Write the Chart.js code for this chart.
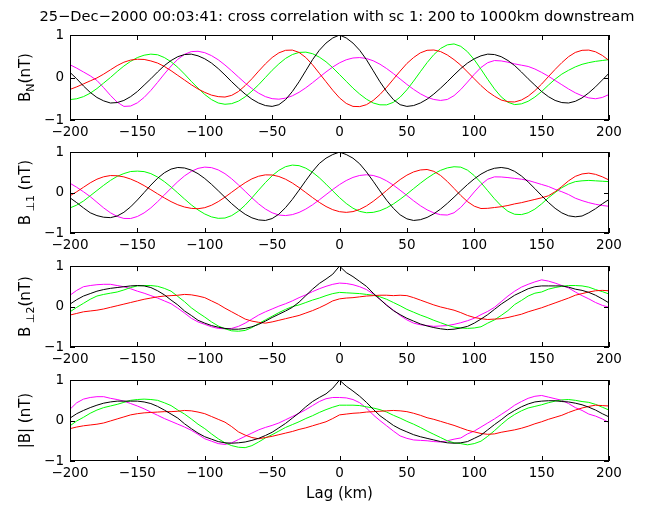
<!DOCTYPE html>
<html><head><meta charset="utf-8">
<script src="https://cdn.jsdelivr.net/npm/chart.js@4.4.1/dist/chart.umd.min.js"></script>
<style>
html,body{margin:0;padding:0;background:#fff;}
#wrap{position:relative;width:647px;height:506px;overflow:hidden;background:#fff;}
canvas{position:absolute;left:0;display:block;}
</style></head><body>
<div id="wrap">
<canvas id="c1" width="647" height="145" style="top:0px"></canvas>
<canvas id="c2" width="647" height="120" style="top:138px"></canvas>
<canvas id="c3" width="647" height="120" style="top:252px"></canvas>
<canvas id="c4" width="647" height="140" style="top:366px"></canvas>
</div>
<script>
// ---------- data ----------
const lagKm = [-200,-195,-190,-185,-180,-175,-170,-165,-160,-155,-150,-145,-140,-135,-130,-125,-120,-115,-110,-105,-100,-95,-90,-85,-80,-75,-70,-65,-60,-55,-50,-45,-40,-35,-30,-25,-20,-15,-10,-5,0,5,10,15,20,25,30,35,40,45,50,55,60,65,70,75,80,85,90,95,100,105,110,115,120,125,130,135,140,145,150,155,160,165,170,175,180,185,190,195,200];
const xTickValues = [-200,-150,-100,-50,0,50,100,150,200];
const yTickValues = [-1,0,1];
const titleText = '25\u2212Dec\u22122000 00:03:41: cross correlation with sc 1: 200 to 1000km downstream';
const xAxisTitle = 'Lag (km)';

// Panel 1: B_N
const bnBlack = [0.12,-0.03,-0.2,-0.35,-0.47,-0.55,-0.6,-0.59,-0.54,-0.45,
 -0.33,-0.18,-0.03,0.13,0.28,0.4,0.49,0.54,0.55,0.51,
 0.44,0.34,0.21,0.06,-0.1,-0.25,-0.39,-0.51,-0.6,-0.66,
 -0.68,-0.64,-0.52,-0.33,-0.1,0.16,0.42,0.64,0.81,0.93,
 1.0,
 0.93,0.81,0.64,0.42,0.16,-0.1,-0.33,-0.52,-0.64,-0.68,
 -0.66,-0.6,-0.51,-0.39,-0.25,-0.1,0.06,0.21,0.34,0.44,
 0.51,0.55,0.54,0.49,0.4,0.28,0.13,-0.03,-0.18,-0.33,
 -0.45,-0.54,-0.59,-0.6,-0.56,-0.48,-0.36,-0.22,-0.06,0.1];
const bnRed = [-0.28,-0.22,-0.15,-0.08,-0.01,0.08,0.18,0.28,0.36,0.41,
 0.43,0.425,0.39,0.34,0.26,0.16,0.05,-0.06,-0.17,-0.27,
 -0.35,-0.415,-0.45,-0.46,-0.42,-0.33,-0.19,-0.03,0.15,0.32,
 0.47,0.58,0.64,0.645,0.59,0.47,0.3,0.1,-0.1,-0.3,
 -0.48,
 -0.61,-0.68,-0.685,-0.64,-0.54,-0.4,-0.23,-0.04,0.15,0.33,
 0.47,0.58,0.64,0.647,0.61,0.53,0.42,0.29,0.13,-0.03,
 -0.19,-0.33,-0.44,-0.53,-0.57,-0.576,-0.53,-0.44,-0.31,-0.155,
 0.02,0.19,0.35,0.49,0.59,0.64,0.645,0.605,0.52,0.4];
const bnGreen = [-0.52,-0.5,-0.45,-0.37,-0.26,-0.13,0.0,0.14,0.27,0.38,
 0.47,0.525,0.55,0.535,0.47,0.37,0.24,0.08,-0.09,-0.25,
 -0.4,-0.52,-0.6,-0.63,-0.615,-0.556,-0.455,-0.32,-0.17,0.0,
 0.17,0.32,0.45,0.54,0.59,0.597,0.56,0.48,0.37,0.23,
 0.07,
 -0.09,-0.25,-0.39,-0.51,-0.6,-0.643,-0.644,-0.584,-0.462,-0.29,
 -0.084,0.136,0.35,0.538,0.683,0.768,0.79,0.733,0.606,0.419,
 0.194,-0.044,-0.268,-0.456,-0.583,-0.638,-0.62,-0.56,-0.46,-0.33,
 -0.18,-0.04,0.08,0.17,0.25,0.31,0.35,0.38,0.4,0.42];
const bnMagenta = [0.3,0.22,0.13,0.04,-0.07,-0.24,-0.42,-0.58,-0.68,-0.671,
 -0.596,-0.469,-0.304,-0.114,0.083,0.27,0.428,0.545,0.609,0.617,
 0.584,0.515,0.417,0.294,0.156,0.011,-0.131,-0.26,-0.369,-0.45,
 -0.498,-0.51,-0.486,-0.431,-0.348,-0.242,-0.122,0.005,0.131,0.247,
 0.345,
 0.417,0.459,0.469,0.447,0.394,0.313,0.21,0.092,-0.035,-0.162,
 -0.28,-0.383,-0.464,-0.517,-0.54,-0.517,-0.427,-0.283,-0.107,0.075,
 0.236,0.349,0.399,0.39,0.36,0.32,0.29,0.26,0.2,0.12,
 0.03,-0.07,-0.17,-0.27,-0.36,-0.43,-0.48,-0.5,-0.47,-0.4];

// Panel 2: B_perp1
const bp1Black = [-0.13,-0.25,-0.38,-0.5,-0.57,-0.61,-0.62,-0.58,-0.488,-0.353,
 -0.184,0.0,0.184,0.353,0.488,0.58,0.62,0.607,0.555,0.467,
 0.347,0.204,0.046,-0.117,-0.275,-0.417,-0.537,-0.625,-0.677,-0.69,
 -0.643,-0.535,-0.371,-0.169,0.06,0.296,0.522,0.718,0.85,0.94,
 1.0,
 0.94,0.85,0.71,0.51,0.28,0.04,-0.19,-0.39,-0.55,-0.65,
 -0.69,-0.671,-0.615,-0.526,-0.408,-0.268,-0.114,0.044,0.198,0.338,
 0.456,0.545,0.6,0.62,0.595,0.523,0.41,0.263,0.097,-0.077,
 -0.243,-0.39,-0.503,-0.575,-0.6,-0.58,-0.5,-0.4,-0.28,-0.17];
const bp1Red = [-0.08,0.02,0.13,0.24,0.33,0.39,0.42,0.415,0.387,0.334,
 0.261,0.172,0.072,-0.031,-0.132,-0.225,-0.302,-0.358,-0.391,-0.4,
 -0.374,-0.314,-0.225,-0.114,0.008,0.13,0.244,0.339,0.404,0.437,
 0.434,0.397,0.329,0.236,0.123,0.0,-0.125,-0.243,-0.345,-0.424,
 -0.473,
 -0.49,-0.471,-0.417,-0.33,-0.217,-0.086,0.053,0.193,0.321,0.43,
 0.51,0.558,0.57,0.524,0.422,0.274,0.103,-0.072,-0.225,-0.337,
 -0.395,-0.39,-0.37,-0.35,-0.32,-0.28,-0.25,-0.21,-0.17,-0.13,
 -0.08,0.02,0.15,0.29,0.4,0.46,0.48,0.45,0.39,0.31];
const bp1Green = [-0.38,-0.31,-0.21,-0.08,0.05,0.18,0.3,0.4,0.47,0.52,
 0.53,0.518,0.468,0.384,0.271,0.137,-0.01,-0.16,-0.304,-0.429,
 -0.53,-0.602,-0.637,-0.63,-0.57,-0.46,-0.31,-0.132,0.06,0.246,
 0.415,0.549,0.64,0.679,0.665,0.603,0.501,0.366,0.207,0.04,
 -0.124,
 -0.27,-0.387,-0.466,-0.499,-0.49,-0.449,-0.378,-0.282,-0.166,-0.038,
 0.097,0.23,0.355,0.463,0.549,0.609,0.638,0.628,0.554,0.419,
 0.244,0.045,-0.154,-0.329,-0.464,-0.537,-0.545,-0.5,-0.41,-0.28,
 -0.13,0.0,0.12,0.21,0.27,0.29,0.3,0.29,0.28,0.27];
const bp1Magenta = [0.23,0.13,0.02,-0.1,-0.24,-0.38,-0.5,-0.59,-0.64,-0.642,
 -0.592,-0.503,-0.379,-0.226,-0.06,0.108,0.27,0.412,0.523,0.598,
 0.629,0.616,0.56,0.467,0.34,0.19,0.03,-0.13,-0.28,-0.407,
 -0.5,-0.556,-0.569,-0.546,-0.491,-0.408,-0.303,-0.181,-0.052,0.076,
 0.196,
 0.297,0.374,0.423,0.44,0.422,0.371,0.289,0.183,0.058,-0.072,
 -0.204,-0.325,-0.427,-0.503,-0.548,-0.556,-0.5,-0.367,-0.185,0.015,
 0.197,0.33,0.388,0.385,0.37,0.35,0.33,0.3,0.25,0.2,
 0.15,0.08,0.02,-0.05,-0.14,-0.2,-0.25,-0.29,-0.32,-0.34];

// Panel 3: B_perp2
const bp2Black = [0.06,0.17,0.26,0.32,0.38,0.42,0.45,0.47,0.49,0.51,
 0.52,0.51,0.47,0.39,0.29,0.16,0.04,-0.11,-0.22,-0.34,
 -0.41,-0.47,-0.51,-0.54,-0.56,-0.56,-0.54,-0.5,-0.44,-0.36,
 -0.27,-0.19,-0.11,-0.02,0.11,0.27,0.43,0.57,0.68,0.8,
 1.0,
 0.84,0.74,0.62,0.5,0.33,0.18,0.03,-0.1,-0.2,-0.29,
 -0.36,-0.43,-0.48,-0.52,-0.55,-0.57,-0.56,-0.53,-0.49,-0.41,
 -0.31,-0.2,-0.07,0.06,0.17,0.28,0.36,0.44,0.49,0.51,
 0.51,0.51,0.51,0.48,0.43,0.4,0.35,0.28,0.19,0.09];
const bp2Red = [-0.21,-0.17,-0.13,-0.11,-0.09,-0.06,-0.02,0.02,0.06,0.1,
 0.14,0.18,0.21,0.24,0.26,0.27,0.28,0.3,0.29,0.26,
 0.22,0.14,0.06,-0.04,-0.13,-0.22,-0.31,-0.36,-0.39,-0.41,
 -0.38,-0.34,-0.3,-0.26,-0.22,-0.16,-0.1,-0.03,0.05,0.14,
 0.19,
 0.21,0.22,0.24,0.26,0.27,0.28,0.28,0.27,0.28,0.27,
 0.22,0.16,0.1,0.04,-0.01,-0.05,-0.09,-0.15,-0.22,-0.27,
 -0.3,-0.32,-0.31,-0.3,-0.27,-0.23,-0.19,-0.13,-0.08,-0.03,
 0.03,0.09,0.15,0.21,0.28,0.32,0.36,0.39,0.4,0.39];
const bp2Green = [-0.13,-0.02,0.08,0.18,0.26,0.3,0.33,0.36,0.41,0.47,
 0.51,0.52,0.52,0.5,0.45,0.38,0.25,0.12,-0.03,-0.15,
 -0.26,-0.38,-0.48,-0.55,-0.6,-0.61,-0.59,-0.52,-0.42,-0.33,
 -0.24,-0.15,-0.07,0.0,0.04,0.1,0.16,0.21,0.27,0.32,
 0.35,
 0.34,0.33,0.32,0.3,0.28,0.24,0.18,0.1,0.02,-0.07,
 -0.14,-0.21,-0.27,-0.34,-0.4,-0.46,-0.51,-0.53,-0.54,-0.53,
 -0.5,-0.41,-0.33,-0.22,-0.1,0.05,0.15,0.26,0.33,0.36,
 0.43,0.47,0.5,0.52,0.52,0.51,0.48,0.42,0.37,0.31];
const bp2Magenta = [0.28,0.4,0.49,0.52,0.54,0.55,0.55,0.52,0.49,0.44,
 0.38,0.33,0.27,0.21,0.14,0.07,-0.04,-0.16,-0.29,-0.38,
 -0.44,-0.5,-0.54,-0.55,-0.54,-0.49,-0.41,-0.31,-0.21,-0.13,
 -0.06,0.01,0.07,0.14,0.22,0.29,0.37,0.44,0.5,0.55,
 0.58,
 0.57,0.54,0.49,0.42,0.31,0.18,0.04,-0.09,-0.22,-0.33,
 -0.41,-0.45,-0.47,-0.49,-0.48,-0.47,-0.44,-0.4,-0.35,-0.29,
 -0.2,-0.12,-0.02,0.12,0.26,0.38,0.48,0.55,0.61,0.66,
 0.63,0.58,0.52,0.46,0.36,0.27,0.19,0.1,0.03,-0.02];

// Panel 4: |B|
const bmBlack = [0.06,0.17,0.25,0.32,0.38,0.43,0.46,0.48,0.48,0.48,
 0.48,0.46,0.42,0.35,0.26,0.16,0.06,-0.08,-0.2,-0.31,
 -0.4,-0.46,-0.52,-0.55,-0.56,-0.55,-0.53,-0.49,-0.44,-0.37,
 -0.29,-0.18,-0.07,0.06,0.19,0.34,0.47,0.57,0.66,0.8,
 1.0,
 0.85,0.73,0.6,0.45,0.28,0.12,0.0,-0.12,-0.21,-0.28,
 -0.35,-0.4,-0.44,-0.48,-0.52,-0.55,-0.56,-0.55,-0.52,-0.44,
 -0.36,-0.23,-0.1,0.02,0.15,0.25,0.34,0.41,0.46,0.48,
 0.49,0.49,0.47,0.46,0.43,0.39,0.33,0.26,0.17,0.09];
const bmRed = [-0.2,-0.16,-0.13,-0.11,-0.09,-0.06,-0.01,0.04,0.09,0.14,
 0.17,0.19,0.2,0.21,0.22,0.22,0.23,0.25,0.24,0.21,
 0.17,0.1,0.03,-0.04,-0.15,-0.28,-0.36,-0.42,-0.45,-0.42,
 -0.39,-0.35,-0.31,-0.27,-0.22,-0.18,-0.13,-0.08,-0.03,0.05,
 0.14,
 0.16,0.18,0.19,0.21,0.22,0.23,0.24,0.25,0.24,0.22,
 0.18,0.13,0.07,0.03,-0.02,-0.07,-0.12,-0.18,-0.24,-0.28,
 -0.32,-0.34,-0.33,-0.29,-0.26,-0.23,-0.19,-0.14,-0.08,-0.03,
 0.03,0.08,0.13,0.2,0.26,0.31,0.35,0.38,0.37,0.36];
const bmGreen = [-0.13,-0.01,0.08,0.18,0.26,0.32,0.36,0.4,0.45,0.5,
 0.52,0.53,0.52,0.5,0.44,0.37,0.26,0.16,0.04,-0.09,
 -0.2,-0.33,-0.45,-0.55,-0.62,-0.66,-0.67,-0.62,-0.53,-0.43,
 -0.35,-0.26,-0.17,-0.1,-0.03,0.05,0.12,0.2,0.27,0.33,
 0.38,
 0.38,0.38,0.37,0.34,0.31,0.27,0.21,0.13,0.06,-0.02,
 -0.09,-0.17,-0.26,-0.34,-0.42,-0.5,-0.55,-0.57,-0.6,-0.57,
 -0.51,-0.39,-0.25,-0.1,0.04,0.15,0.24,0.31,0.35,0.39,
 0.44,0.48,0.51,0.52,0.5,0.47,0.45,0.4,0.33,0.26];
const bmMagenta = [0.28,0.44,0.53,0.57,0.59,0.59,0.55,0.52,0.48,0.42,
 0.36,0.29,0.21,0.13,0.05,-0.02,-0.09,-0.16,-0.24,-0.34,
 -0.45,-0.51,-0.57,-0.59,-0.55,-0.47,-0.39,-0.31,-0.23,-0.17,
 -0.12,-0.06,0.02,0.1,0.18,0.27,0.37,0.47,0.54,0.57,
 0.57,
 0.56,0.52,0.44,0.31,0.14,0.0,-0.13,-0.26,-0.38,-0.44,
 -0.48,-0.49,-0.5,-0.52,-0.53,-0.5,-0.46,-0.43,-0.33,-0.26,
 -0.16,-0.06,0.04,0.15,0.26,0.38,0.47,0.55,0.6,0.62,
 0.58,0.54,0.5,0.42,0.32,0.25,0.16,0.11,0.04,-0.05];

const seriesColors = ['#000000','#ff0000','#00ff00','#ff00ff'];
const FONT = "'DejaVu Sans', 'Liberation Sans', Arial, sans-serif";

// y-axis labels (parts; sub = subscript)
const yLabels = [
  [{t:'B'},{t:'N',sub:true},{t:'(nT)'}],
  [{t:'B'},{t:' \u22A51',sub:true},{t:' (nT)'}],
  [{t:'B'},{t:' \u22A52',sub:true},{t:'(nT)'}],
  [{t:'|B| (nT)'}]
];

const panels = [
  {id:'c1', data:[bnBlack,bnRed,bnGreen,bnMagenta], label:yLabels[0], title:true, xtitle:false, padTop:0, xh:25},
  {id:'c2', data:[bp1Black,bp1Red,bp1Green,bp1Magenta], label:yLabels[1], title:false, xtitle:false, padTop:10, xh:25},
  {id:'c3', data:[bp2Black,bp2Red,bp2Green,bp2Magenta], label:yLabels[2], title:false, xtitle:false, padTop:10, xh:25},
  {id:'c4', data:[bmBlack,bmRed,bmGreen,bmMagenta], label:yLabels[3], title:false, xtitle:true, padTop:10, xh:45}
];

function fmt(v){ return v < 0 ? '\u2212' + Math.abs(v) : String(v); }

const matlabBox = {
  id:'matlabBox',
  afterDraw(chart, args, opts){
    const {ctx, chartArea:a, scales} = chart;
    ctx.save();
    ctx.strokeStyle = '#000';
    ctx.lineWidth = 1;
    ctx.strokeRect(Math.round(a.left)+0.5, Math.round(a.top)+0.5, Math.round(a.right-a.left)-1, Math.round(a.bottom-a.top)-1);
    const tl = 5;
    ctx.beginPath();
    scales.x.ticks.forEach(t => {
      const px = Math.round(scales.x.getPixelForValue(t.value)) + 0.5;
      ctx.moveTo(px, a.bottom); ctx.lineTo(px, a.bottom - tl);
      ctx.moveTo(px, a.top); ctx.lineTo(px, a.top + tl);
    });
    scales.y.ticks.forEach(t => {
      const py = Math.round(scales.y.getPixelForValue(t.value)) + 0.5;
      ctx.moveTo(a.left, py); ctx.lineTo(a.left + tl, py);
      ctx.moveTo(a.right, py); ctx.lineTo(a.right - tl, py);
    });
    ctx.stroke();
    // y label with subscript
    const parts = opts.parts || [];
    const mainF = '15px ' + FONT, subF = '11px ' + FONT;
    let total = 0;
    parts.forEach(p => { ctx.font = p.sub ? subF : mainF; p.w = ctx.measureText(p.t).width; total += p.w; });
    ctx.translate(26, (a.top + a.bottom) / 2);
    ctx.rotate(-Math.PI / 2);
    ctx.fillStyle = '#000';
    ctx.textBaseline = 'middle';
    ctx.textAlign = 'left';
    let x = -total / 2;
    parts.forEach(p => {
      ctx.font = p.sub ? subF : mainF;
      ctx.fillText(p.t, x, p.sub ? 5 : 0);
      x += p.w;
    });
    ctx.restore();
  }
};

panels.forEach(p => {
  const datasets = p.data.map((arr, i) => ({
    data: lagKm.map((x, k) => ({x: x, y: arr[k]})),
    borderColor: seriesColors[i],
    borderWidth: 1,
    pointRadius: 0,
    fill: false,
    tension: 0,
    yAxisID: 'y'
  }));
  new Chart(document.getElementById(p.id), {
    type: 'line',
    data: { datasets: datasets },
    options: {
      responsive: false,
      animation: false,
      devicePixelRatio: 1,
      layout: { padding: { left: 27, right: 0, top: p.padTop, bottom: 0 } },
      plugins: {
        legend: { display: false },
        tooltip: { enabled: false },
        title: {
          display: p.title, text: titleText, fullSize: true, color: '#000',
          font: { family: FONT, size: 14.6, weight: 'normal', lineHeight: 1.2 },
          padding: { top: 8, bottom: 9.48 }
        },
        matlabBox: { parts: p.label }
      },
      scales: {
        x: {
          type: 'linear', min: -200, max: 200,
          afterBuildTicks: s => { s.ticks = xTickValues.map(v => ({value: v})); },
          afterFit: s => { s.height = p.xh; },
          grid: { display: false, drawTicks: false },
          border: { display: false },
          ticks: { autoSkip: false, maxRotation: 0, padding: 4, color: '#000',
                   font: { family: FONT, size: 13.5 }, callback: v => fmt(v) },
          title: { display: p.xtitle, text: xAxisTitle, color: '#000',
                   font: { family: FONT, size: 15, lineHeight: 1.2 }, padding: { top: 0, bottom: 3 } }
        },
        y: {
          type: 'linear', position: 'left', min: -1, max: 1,
          afterBuildTicks: s => { s.ticks = yTickValues.map(v => ({value: v})); },
          afterFit: s => { s.width = 43; },
          grid: { display: false, drawTicks: false },
          border: { display: false },
          ticks: { padding: 6, color: '#000', font: { family: FONT, size: 13.5 }, callback: v => fmt(v) }
        },
        yRight: {
          type: 'linear', position: 'right', min: -1, max: 1,
          afterFit: s => { s.width = 38; },
          grid: { display: false, drawTicks: false },
          border: { display: false },
          ticks: { display: false }
        }
      }
    },
    plugins: [matlabBox]
  });
});
</script>
</body></html>
